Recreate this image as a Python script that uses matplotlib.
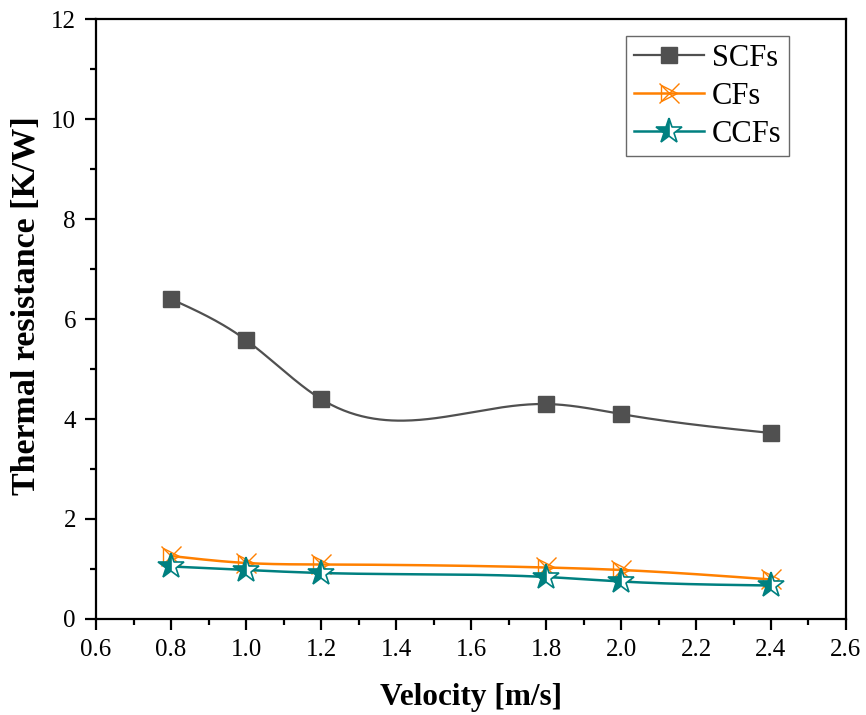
import numpy as np
import matplotlib
matplotlib.use("Agg")
import matplotlib.pyplot as plt
from matplotlib.ticker import MultipleLocator, AutoMinorLocator

velocity = [0.8, 1.0, 1.2, 1.8, 2.0, 2.4]
scfs = [6.40, 5.58, 4.40, 4.30, 4.10, 3.72]
cfs = [1.26, 1.12, 1.09, 1.03, 0.98, 0.79]
ccfs = [1.05, 0.98, 0.92, 0.84, 0.75, 0.67]


def spline(x, y, n=300):
    # natural cubic spline, just for the smooth connecting line
    x = np.asarray(x, float)
    y = np.asarray(y, float)
    k = len(x)
    h = np.diff(x)
    A = np.zeros((k, k))
    b = np.zeros(k)
    A[0, 0] = A[-1, -1] = 1
    for i in range(1, k - 1):
        A[i, i - 1] = h[i - 1]
        A[i, i] = 2 * (h[i - 1] + h[i])
        A[i, i + 1] = h[i]
        b[i] = 3 * ((y[i + 1] - y[i]) / h[i] - (y[i] - y[i - 1]) / h[i - 1])
    c = np.linalg.solve(A, b)
    xs = np.linspace(x[0], x[-1], n)
    idx = np.clip(np.searchsorted(x, xs) - 1, 0, k - 2)
    dx = xs - x[idx]
    bb = (y[idx + 1] - y[idx]) / h[idx] - h[idx] * (2 * c[idx] + c[idx + 1]) / 3
    d = (c[idx + 1] - c[idx]) / (3 * h[idx])
    return xs, y[idx] + bb * dx + c[idx] * dx ** 2 + d * dx ** 3


plt.rcParams['font.family'] = 'Liberation Serif'

fig = plt.figure(figsize=(8.66, 7.15), dpi=100)
ax = fig.add_axes([0.1109, 0.1343, 0.866, 0.839])

grey = '#505050'
orange = '#ff8000'
teal = '#008080'

xs, ys = spline(velocity, scfs)
ax.plot(xs, ys, color=grey, lw=1.6)
ax.plot(velocity, scfs, ls='none', marker='s', ms=11, color=grey)

xs, ys = spline(velocity, cfs)
ax.plot(xs, ys, color=orange, lw=1.8)
ax.plot(velocity, cfs, ls='none', marker='>', ms=12, mfc='none', mec=orange, mew=1)
ax.plot(velocity, cfs, ls='none', marker='x', ms=14, color=orange, mew=1)

xs, ys = spline(velocity, ccfs)
ax.plot(xs, ys, color=teal, lw=1.8)
ax.plot(velocity, ccfs, ls='none', marker='*', ms=19, color=teal, mec=teal,
        fillstyle='left', mfcalt='white', mew=1.2)

# legend proxies
h1, = ax.plot([], [], color=grey, lw=1.6, marker='s', ms=11)
h2a, = ax.plot([], [], color=orange, lw=1.8, marker='>', ms=12, mfc='none', mew=1)
h2b, = ax.plot([], [], ls='none', color=orange, marker='x', ms=14, mew=1)
h3, = ax.plot([], [], color=teal, lw=1.8, marker='*', ms=19, fillstyle='left',
              mfcalt='white', mew=1.2)
leg = ax.legend([h1, (h2a, h2b), h3], ['SCFs', 'CFs', 'CCFs'],
                loc='upper right', bbox_to_anchor=(0.924, 0.972),
                fontsize=22, frameon=True, fancybox=False, edgecolor='#444444',
                handlelength=2.3, handletextpad=0.26, borderpad=0.25,
                labelspacing=0.3, borderaxespad=0)
leg.get_frame().set_linewidth(1.0)

ax.set_xlim(0.6, 2.6)
ax.set_ylim(0, 12)
ax.xaxis.set_major_locator(MultipleLocator(0.2))
ax.xaxis.set_minor_locator(AutoMinorLocator(2))
ax.yaxis.set_major_locator(MultipleLocator(2))
ax.yaxis.set_minor_locator(AutoMinorLocator(2))
ax.tick_params(which='major', direction='out', length=8, width=1.6,
               labelsize=18, pad=6.5)
ax.tick_params(which='minor', direction='out', length=4.5, width=1.6)
for s in ax.spines.values():
    s.set_linewidth(1.6)

ax.set_xlabel('Velocity [m/s]', fontsize=22.5, fontweight='bold', labelpad=16)
ax.set_ylabel('Thermal resistance [K/W]', fontsize=24.5, fontweight='bold')
ax.yaxis.set_label_coords(-0.072, 0.522)

fig.savefig('out.png', dpi=100)
